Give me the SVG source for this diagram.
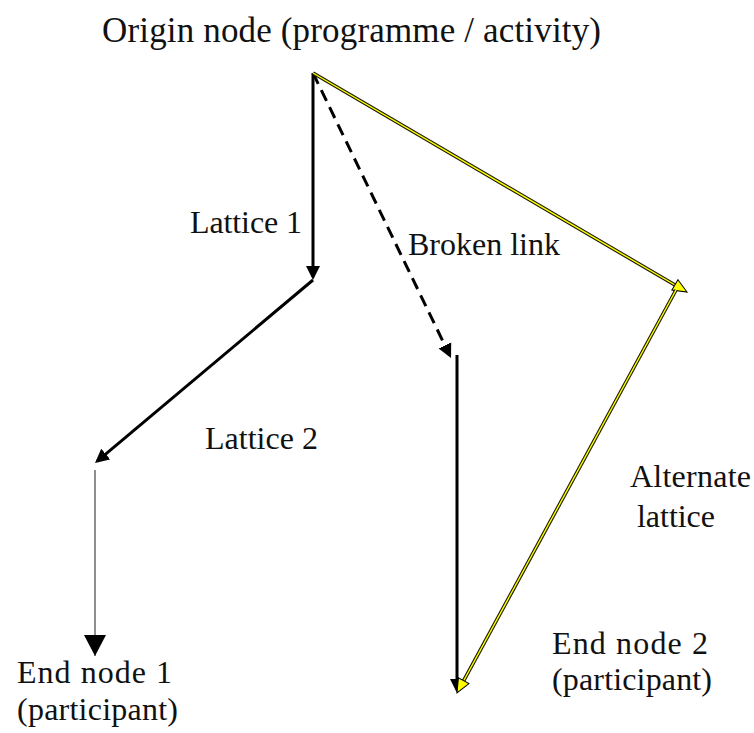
<svg xmlns="http://www.w3.org/2000/svg" width="754" height="733" viewBox="0 0 754 733">
<style>
  text { font-family: "Liberation Serif", "DejaVu Serif", serif; fill: #111; font-size: 32px; }
  .title { font-size: 35px; }
  .blk { stroke: #000; stroke-width: 3; fill: none; }
  .dash { stroke-dasharray: 12 7; }
  .thin { stroke: #444; stroke-width: 1.2; fill: none; }
  .yout { stroke: #1a1a00; stroke-width: 3.6; fill: none; }
  .yin { stroke: #ffff00; stroke-width: 1.4; fill: none; }
</style>
<defs>
  <marker id="ab" markerUnits="userSpaceOnUse" markerWidth="16" markerHeight="16" viewBox="0 -8 16 16" refX="11" refY="0" orient="auto">
    <path d="M0,-7 L14,0 L0,7 Z" fill="#000"/>
  </marker>
  <marker id="abl" markerUnits="userSpaceOnUse" markerWidth="24" markerHeight="24" viewBox="0 -12 24 24" refX="21" refY="0" orient="auto">
    <path d="M0,-11 L21,0 L0,11 Z" fill="#000"/>
  </marker>
  <marker id="ay" markerUnits="userSpaceOnUse" markerWidth="18" markerHeight="18" viewBox="-1 -9 18 18" refX="14" refY="0" orient="auto">
    <path d="M0,-6 L14,0 L0,6 Z" fill="#ffff00" stroke="#000" stroke-width="1" stroke-linejoin="miter"/>
  </marker>
</defs>
<rect width="754" height="733" fill="#fff"/>

<g id="connectors">
  <!-- Lattice 1 -->
  <line class="blk" x1="313" y1="73" x2="313" y2="277" marker-end="url(#ab)"/>
  <!-- Lattice 2 -->
  <line class="blk" x1="313" y1="280" x2="97.3" y2="461.1" marker-end="url(#ab)"/>
  <!-- to End node 1 -->
  <line class="thin" x1="95" y1="470" x2="95" y2="656" marker-end="url(#abl)"/>
  <!-- Broken link -->
  <line class="blk dash" x1="313" y1="73" x2="449.7" y2="355.3" marker-end="url(#ab)"/>
  <!-- to End node 2 -->
  <line class="blk" x1="457" y1="355" x2="457" y2="690" marker-end="url(#ab)"/>
  <!-- Alternate lattice, leg 1 -->
  <line class="yout" x1="313" y1="73" x2="678.4" y2="287"/>
  <line class="yin" x1="313" y1="73" x2="687" y2="292" marker-end="url(#ay)"/>
  <!-- Alternate lattice, leg 2 -->
  <line class="yout" x1="676" y1="290" x2="461.8" y2="684.2"/>
  <line class="yin" x1="676" y1="290" x2="457" y2="693" marker-end="url(#ay)"/>
</g>

<g id="origin-node">
  <text class="title" x="102" y="42" textLength="499" lengthAdjust="spacing">Origin node (programme / activity)</text>
</g>
<g id="label-lattice-1">
  <text x="190" y="233" textLength="112" lengthAdjust="spacing">Lattice 1</text>
</g>
<g id="label-broken-link">
  <text x="408" y="255">Broken link</text>
</g>
<g id="label-lattice-2">
  <text x="205" y="449" textLength="113" lengthAdjust="spacing">Lattice 2</text>
</g>
<g id="label-alternate-lattice">
  <text x="630" y="487" textLength="121" lengthAdjust="spacing">Alternate</text>
  <text x="637" y="527" textLength="78" lengthAdjust="spacing">lattice</text>
</g>
<g id="end-node-2">
  <text x="552" y="654" textLength="156" lengthAdjust="spacing">End node 2</text>
  <text x="552" y="690" textLength="160" lengthAdjust="spacing">(participant)</text>
</g>
<g id="end-node-1">
  <text x="17" y="683" textLength="155" lengthAdjust="spacing">End node 1</text>
  <text x="17" y="720" textLength="161" lengthAdjust="spacing">(participant)</text>
</g>
</svg>
